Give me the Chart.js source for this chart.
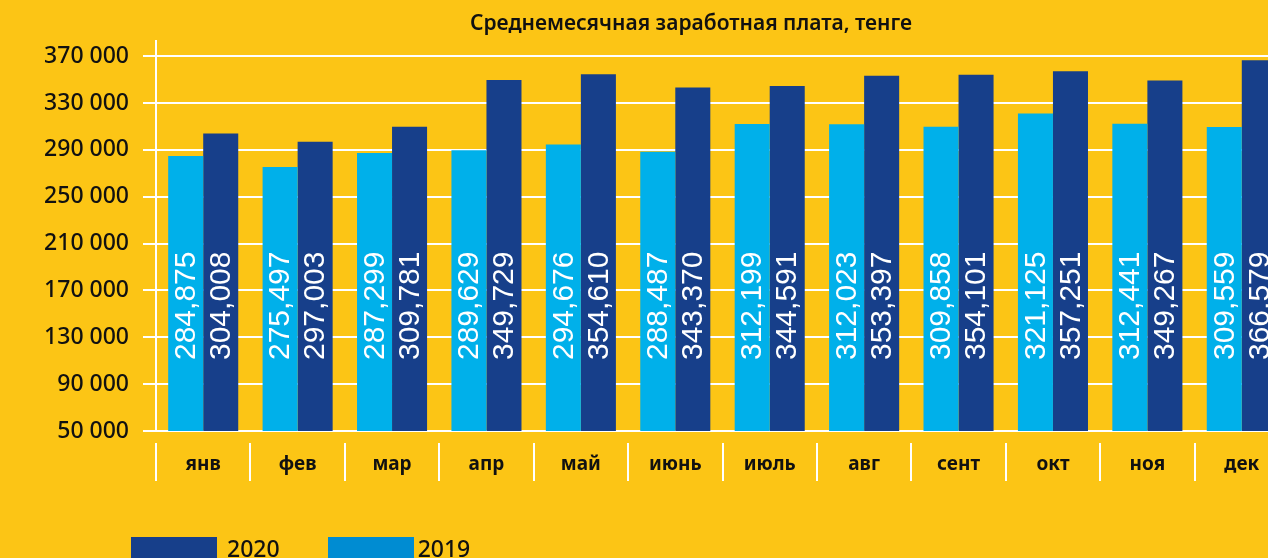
<!DOCTYPE html>
<html>
<head>
<meta charset="utf-8">
<script src="https://cdn.jsdelivr.net/npm/chart.js@4/dist/chart.umd.min.js"></script>
<style>
  html, body { margin: 0; padding: 0; background: #fcc515; }
  #wrap { position: relative; width: 1268px; height: 558px; overflow: hidden; background: #fcc515; }
  #box { position: absolute; left: 0; top: 0; width: 1290px; height: 558px; }
  #title {
    position: absolute; left: 0; top: 8px; width: 1382px; text-align: center;
    font: 600 21px "Noto Sans", sans-serif; line-height: 28px; color: #111;
  }
  #legend { position: absolute; left: 131px; top: 537px; display: flex; }
  #legend .item { display: flex; align-items: flex-start; margin-right: 48px; }
  #legend .sw { width: 86px; height: 26px; }
  #legend .txt { margin-left: 10px; font: 500 23px "Noto Sans", sans-serif; line-height: 23px; color: #111; }
  #legend .item + .item .txt { margin-left: 4px; }
</style>
</head>
<body>
<div id="wrap">
  <div id="box"><canvas id="myChart"></canvas></div>
  <div id="title">Среднемесячная заработная плата, тенге</div>
  <div id="legend"></div>
</div>
<script>
var months = ["янв", "фев", "мар", "апр", "май", "июнь", "июль", "авг", "сент", "окт", "ноя", "дек"];
var salary2019 = [284875, 275497, 287299, 289629, 294676, 288487, 312199, 312023, 309858, 321125, 312441, 309559];
var salary2020 = [304008, 297003, 309781, 349729, 354610, 343370, 344591, 353397, 354101, 357251, 349267, 366579];
var yTicks = [50000, 90000, 130000, 170000, 210000, 250000, 290000, 330000, 370000];

var light = "#00b0ea";
var dark = "#173f8a";

function spaced(v) {
  return String(v).replace(/\B(?=(\d{3})+(?!\d))/g, " ");
}

// white rotated numbers inside the bars
const barLabels = {
  id: "barLabels",
  afterDatasetsDraw(chart) {
    const ctx = chart.ctx;
    const bottom = chart.scales.y.bottom;
    ctx.save();
    ctx.font = "30px 'Liberation Sans', Arial, sans-serif";
    ctx.fillStyle = "#ffffff";
    ctx.textAlign = "left";
    ctx.textBaseline = "middle";
    chart.data.datasets.forEach((ds, di) => {
      chart.getDatasetMeta(di).data.forEach((bar, i) => {
        ctx.save();
        ctx.translate(bar.x + 1, bottom - 71);
        ctx.rotate(-Math.PI / 2);
        ctx.fillText(ds.data[i].toLocaleString("en-US"), 0, 0);
        ctx.restore();
      });
    });
    ctx.restore();
  },
};

// white separators between month labels
const monthSeparators = {
  id: "monthSeparators",
  afterDraw(chart) {
    const ctx = chart.ctx;
    const x = chart.scales.x;
    const bottom = chart.chartArea.bottom;
    const step = x.width / months.length;
    ctx.save();
    ctx.strokeStyle = "#ffffff";
    ctx.lineWidth = 2;
    for (let i = 0; i <= months.length; i++) {
      const px = Math.round(x.left + i * step);
      ctx.beginPath();
      ctx.moveTo(px, bottom + 12);
      ctx.lineTo(px, bottom + 50);
      ctx.stroke();
    }
    ctx.restore();
  },
};

const ctx = document.getElementById("myChart");

const config = {
  type: "bar",
  data: {
    labels: months,
    datasets: [
      { label: "2019", data: salary2019, backgroundColor: light, legendColor: "#008cd2" },
      { label: "2020", data: salary2020, backgroundColor: dark, legendColor: dark },
    ],
  },
  options: {
    responsive: true,
    maintainAspectRatio: false,
    animation: false,
    layout: { padding: { top: 41, right: 1, left: 0, bottom: 0 } },
    datasets: { bar: { categoryPercentage: 0.742, barPercentage: 1.0 } },
    plugins: {
      legend: { display: false },
      title: { display: false },
      tooltip: { enabled: false },
    },
    scales: {
      x: {
        grid: { display: false, drawTicks: false },
        border: { display: false },
        ticks: {
          padding: 22,
          color: "#111",
          font: { family: "'Noto Sans', sans-serif", size: 19, weight: "bold" },
        },
        afterFit(scale) {
          scale.height = 127;
        },
      },
      y: {
        min: 50000,
        max: 383000,
        grid: { color: "#ffffff", lineWidth: 2, tickLength: 13 },
        border: { display: true, color: "#ffffff", width: 2 },
        afterBuildTicks(scale) {
          scale.ticks = yTicks.map((v) => ({ value: v }));
        },
        ticks: {
          padding: 14,
          color: "#111",
          font: { family: "'Noto Sans', sans-serif", size: 23, weight: 500 },
          callback: (v) => spaced(v),
        },
        afterFit(scale) {
          scale.width = 156;
        },
      },
    },
  },
  plugins: [barLabels, monthSeparators],
};

var chart = new Chart(ctx, config);

// legend: 2020 first, then 2019
var legend = document.getElementById("legend");
chart.data.datasets.slice().reverse().forEach((ds) => {
  var item = document.createElement("div");
  item.className = "item";
  var sw = document.createElement("div");
  sw.className = "sw";
  sw.style.background = ds.legendColor;
  var txt = document.createElement("div");
  txt.className = "txt";
  txt.textContent = ds.label;
  item.appendChild(sw);
  item.appendChild(txt);
  legend.appendChild(item);
});
</script>
</body>
</html>
